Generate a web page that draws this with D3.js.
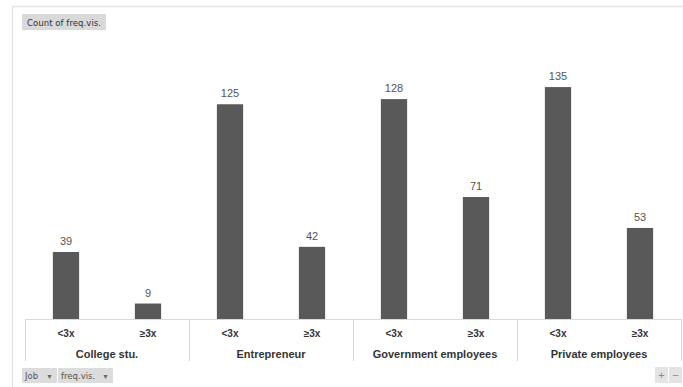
<!DOCTYPE html>
<html>
<head>
<meta charset="utf-8">
<script src="https://cdn.jsdelivr.net/npm/d3@7"></script>
<style>
  html, body { margin: 0; padding: 0; background: #fff; }
  svg { display: block; font-family: "Liberation Sans", Arial, sans-serif; }
</style>
</head>
<body>
<svg id="chart" width="683" height="387"></svg>
<script>
// Pivot chart: Count of freq.vis. by Job and visit frequency
const jobs = ["College stu.", "Entrepreneur", "Government employees", "Private employees"];
const freqs = ["<3x", "≥3x"];
const lessThan3 = [39, 125, 128, 135];
const atLeast3 = [9, 42, 71, 53];

const rows = jobs.flatMap((job, i) => [
  { job, freq: freqs[0], value: lessThan3[i] },
  { job, freq: freqs[1], value: atLeast3[i] }
]);

const svg = d3.select("#chart");

// Frame of the chart area (light border on left and top)
svg.append("line").attr("x1", 12.5).attr("x2", 12.5).attr("y1", 6).attr("y2", 387)
  .attr("stroke", "#e2e2e2").attr("stroke-width", 1);
svg.append("line").attr("x1", 12).attr("x2", 683).attr("y1", 6.5).attr("y2", 6.5)
  .attr("stroke", "#e2e2e2").attr("stroke-width", 1.5);

// Field button "Count of freq.vis."
const btn = svg.append("g").attr("transform", "translate(22,14)");
btn.append("rect").attr("width", 84).attr("height", 16).attr("fill", "#d9d9d9");
btn.append("text").attr("x", 5).attr("y", 11.5).attr("font-size", 8.5).attr("fill", "#333")
  .attr("font-family", "'DejaVu Sans', sans-serif").attr("textLength", 74)
  .text("Count of freq.vis.");

// Scales
const baseY = 319;
const y = d3.scaleLinear().domain([0, 150]).range([baseY, baseY - 150 * 1.718]);
const x0 = d3.scaleBand().domain(jobs).range([25, 681]);
const x1 = d3.scaleBand().domain(freqs).range([0, x0.bandwidth()])
  .paddingInner(0.68).paddingOuter(0.34);

// Bars
svg.append("g").selectAll("rect").data(rows).join("rect")
  .attr("x", d => x0(d.job) + x1(d.freq))
  .attr("y", d => y(d.value))
  .attr("width", x1.bandwidth())
  .attr("height", d => y(0) - y(d.value))
  .attr("fill", "#595959");

// Value labels
svg.append("g").selectAll("text").data(rows).join("text")
  .attr("x", d => x0(d.job) + x1(d.freq) + x1.bandwidth() / 2)
  .attr("y", d => y(d.value) - 7)
  .attr("text-anchor", "middle")
  .attr("font-size", 11).attr("fill", "#555")
  .text(d => d.value);

// Multi-level category axis
const axis = svg.append("g");
axis.append("line").attr("x1", 25).attr("x2", 681).attr("y1", baseY + 0.5).attr("y2", baseY + 0.5)
  .attr("stroke", "#d9d9d9");
const dividers = jobs.map(j => x0(j)).concat([x0.range()[1]]);
axis.selectAll("line.div").data(dividers).join("line").attr("class", "div")
  .attr("x1", d => Math.round(d) + 0.5).attr("x2", d => Math.round(d) + 0.5)
  .attr("y1", baseY).attr("y2", 361)
  .attr("stroke", "#d9d9d9");

axis.selectAll("text.sub").data(rows).join("text").attr("class", "sub")
  .attr("x", d => x0(d.job) + x1(d.freq) + x1.bandwidth() / 2)
  .attr("y", 337)
  .attr("text-anchor", "middle").attr("font-size", 10).attr("font-weight", "bold")
  .attr("fill", "#333")
  .text(d => d.freq);

axis.selectAll("text.grp").data(jobs).join("text").attr("class", "grp")
  .attr("x", d => x0(d) + x0.bandwidth() / 2)
  .attr("y", 358)
  .attr("text-anchor", "middle").attr("font-size", 11).attr("font-weight", "bold")
  .attr("fill", "#333")
  .text(d => d);

// Bottom field buttons
const fieldButtons = [
  { label: "Job", x: 22, w: 36 },
  { label: "freq.vis.", x: 58, w: 56 }
];
const fb = svg.append("g").selectAll("g").data(fieldButtons).join("g")
  .attr("transform", d => `translate(${d.x},368)`);
fb.append("rect").attr("width", d => d.w - 1).attr("height", 15).attr("fill", "#dcdcdc");
fb.append("text").attr("x", 3).attr("y", 11).attr("font-size", 8.5).attr("fill", "#555")
  .attr("font-family", "'DejaVu Sans', sans-serif")
  .text(d => d.label);
fb.append("text").attr("x", d => d.w - 12).attr("y", 10.5).attr("font-size", 7).attr("fill", "#666")
  .text("▼");

// Zoom buttons
const zb = svg.append("g").selectAll("g").data(["+", "−"]).join("g")
  .attr("transform", (d, i) => `translate(${655 + i * 14},367)`);
zb.append("rect").attr("width", 13).attr("height", 16).attr("fill", "#e4e4e4");
zb.append("text").attr("x", 6.5).attr("y", 12).attr("text-anchor", "middle")
  .attr("font-size", 11).attr("fill", "#888").text(d => d);
</script>
</body>
</html>
